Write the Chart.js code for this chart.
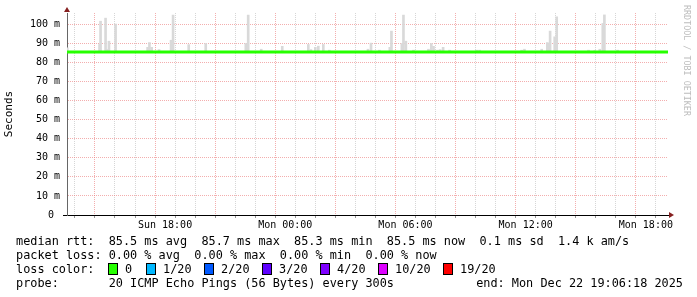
<!DOCTYPE html>
<html>
<head>
<meta charset="utf-8">
<script src="https://cdn.jsdelivr.net/npm/chart.js@4.4.1/dist/chart.umd.min.js"></script>
<style>
  html, body { margin: 0; padding: 0; background: #fff; }
  #wrap { position: relative; width: 697px; height: 297px; overflow: hidden; }
  #c { position: absolute; left: 0; top: 0; }
  .row {
    position: absolute; left: 16px; height: 14px; line-height: 14px;
    font-family: "DejaVu Sans Mono", monospace; font-size: 11.85px;
    white-space: pre; color: #000;
  }
  .sq { position: absolute; width: 8px; height: 10px; border: 1px solid #000; top: 263px; }
  .lbl { position: absolute; top: 262px; line-height: 14px; font-family: "DejaVu Sans Mono", monospace; font-size: 11.85px; white-space: pre; }
  #credit {
    position: absolute; left: 682px; top: 5px; writing-mode: vertical-rl;
    font-family: "DejaVu Sans Mono", monospace; font-size: 8.4px; color: #bdbdbd;
  }
</style>
</head>
<body>
<div id="wrap">
  <canvas id="c" width="697" height="297"></canvas>
  <div class="row" style="top:234px">median rtt:  85.5 ms avg  85.7 ms max  85.3 ms min  85.5 ms now  0.1 ms sd  1.4 k am/s</div>
  <div class="row" style="top:248px">packet loss: 0.00 % avg  0.00 % max  0.00 % min  0.00 % now</div>
  <div class="row" style="top:262px">loss color:</div>
  <div id="lossRow"></div>
  <div class="row" style="top:276px">probe:       20 ICMP Echo Pings (56 Bytes) every 300s</div>
  <div class="row" style="top:276px; left:auto; right:14px">end: Mon Dec 22 19:06:18 2025</div>
  <div id="credit">RRDTOOL / TOBI OETIKER</div>
</div>
<script>
// time axis in hours since Sun 00:00
const xStart = 13.105;
const xEnd = 43.105;
const xLabelHours = [18, 24, 30, 36, 42];
const xLabelText = ["Sun 18:00", "Mon 00:00", "Mon 06:00", "Mon 12:00", "Mon 18:00"];

// median rtt (ms)
const medianHours = [13.105, 17, 21, 25, 29, 33, 37, 41, 43.105];
const medianValues = [85.5, 85.5, 85.5, 85.5, 85.5, 85.5, 85.5, 85.5, 85.5];

// smoke spikes (ms): time, top of the ping spread
const smokeFloor = 85.2;
const spikeHours = [13.12, 14.73, 14.78, 15.03, 15.13, 15.2, 15.53, 17.13, 17.22, 17.33,
  17.7, 18.3, 18.4, 19.18, 20.03, 22.03, 22.15, 22.8, 23.85, 25.15,
  25.28, 25.5, 25.65, 25.9, 26.2, 28.13, 28.28, 28.7, 29.22, 29.3,
  29.82, 29.9, 30.02, 30.4, 31.15, 31.29, 31.4, 31.6, 31.73, 31.88,
  32.2, 33.55, 33.7, 35.8, 35.94, 36.8, 37.08, 37.18, 37.22, 37.45,
  37.55, 39.14, 39.45, 39.7, 39.85, 39.93, 40.59];
const spikeTops = [87.7, 89.5, 101.7, 103.3, 86.8, 91.2, 100.2, 88, 90.5, 88,
  86.8, 91.7, 104.9, 89.4, 90, 90, 104.9, 87, 88.5, 89.5,
  86.8, 88, 88.6, 89.5, 86.5, 87, 90.2, 86.5, 88, 96.5,
  90, 104.9, 91.2, 86.5, 87, 90, 88.5, 86.5, 86.8, 88,
  86.5, 86.5, 86.5, 86.5, 87, 87, 90.5, 90, 96.5, 93.5,
  104, 86.5, 86.3, 87, 100.5, 105, 86.5];

// loss colour legend
const lossLabels = ["0", "1/20", "2/20", "3/20", "4/20", "10/20", "19/20"];
const lossColors = ["#26ff00", "#00b8ff", "#0059ff", "#5e00ff", "#7e00ff", "#dd00ff", "#ff0000"];
const lossBoxX = [108, 146, 204, 262, 320, 378, 443];

const lossRow = document.getElementById("lossRow");
lossLabels.forEach((t, i) => {
  const sq = document.createElement("div");
  sq.className = "sq";
  sq.style.left = lossBoxX[i] + "px";
  sq.style.background = lossColors[i];
  lossRow.appendChild(sq);
  const lb = document.createElement("div");
  lb.className = "lbl";
  lb.style.left = (lossBoxX[i] + 17) + "px";
  lb.textContent = t;
  lossRow.appendChild(lb);
});

const MONO = "'DejaVu Sans Mono', monospace";
const majorGrid = "rgba(235,120,120,0.6)";
const minorGrid = "rgba(180,180,180,0.55)";

const arrows = {
  id: "arrows",
  afterDraw(chart) {
    const { ctx, chartArea: a } = chart;
    ctx.save();
    ctx.fillStyle = "#862020";
    ctx.beginPath();
    ctx.moveTo(a.left, a.top - 6);
    ctx.lineTo(a.left - 3, a.top - 1);
    ctx.lineTo(a.left + 3, a.top - 1);
    ctx.fill();
    ctx.beginPath();
    ctx.moveTo(a.right + 6, a.bottom);
    ctx.lineTo(a.right + 1, a.bottom - 3);
    ctx.lineTo(a.right + 1, a.bottom + 3);
    ctx.fill();
    ctx.restore();
  }
};

new Chart(document.getElementById("c"), {
  type: "bar",
  data: {
    datasets: [
      {
        type: "line",
        data: medianHours.map((h, i) => ({ x: h, y: medianValues[i] })),
        borderColor: "#26ff00",
        borderWidth: 3,
        pointRadius: 0,
        stepped: true,
        order: 0
      },
      {
        type: "bar",
        data: spikeHours.map((h, i) => ({ x: h, y: [smokeFloor, spikeTops[i]] })),
        backgroundColor: "#d9d9d9",
        borderWidth: 0,
        barThickness: 2,
        grouped: false,
        order: 1
      }
    ]
  },
  options: {
    responsive: false,
    animation: false,
    layout: { padding: { left: 0, right: 29, top: 13, bottom: 0 } },
    plugins: { legend: { display: false }, tooltip: { enabled: false } },
    scales: {
      x: {
        type: "linear",
        min: xStart,
        max: xEnd,
        offset: false,
        afterFit(s) { s.height = 82; },
        afterBuildTicks(s) {
          const t = [];
          for (let h = 14; h <= 43; h++) t.push({ value: h });
          s.ticks = t;
        },
        ticks: {
          autoSkip: false,
          maxRotation: 0,
          padding: 1,
          color: "#000",
          font: { family: MONO, size: 10 },
          callback(v) {
            const i = xLabelHours.indexOf(v);
            return i >= 0 ? xLabelText[i] : "";
          }
        },
        grid: {
          color: c => (c.tick && c.tick.value % 3 === 0) ? majorGrid : minorGrid,
          tickColor: "#999",
          tickLength: 3
        },
        border: { color: "#000", width: 1, dash: [1, 1] }
      },
      y: {
        min: 0,
        max: 106,
        afterFit(s) { s.width = 67; },
        afterBuildTicks(s) {
          const t = [];
          for (let v = 0; v <= 105; v += 5) t.push({ value: v });
          s.ticks = t;
        },
        ticks: {
          padding: 3,
          color: "#000",
          font: { family: MONO, size: 10 },
          callback(v) {
            if (v % 10 !== 0) return "";
            return v === 0 ? "0 " : v + " m";
          }
        },
        grid: {
          color: c => (c.tick && c.tick.value % 10 === 0) ? majorGrid : minorGrid,
          tickColor: c => (c.tick && c.tick.value === 0) ? "#000" : "rgba(0,0,0,0)",
          tickLength: 4
        },
        border: { color: "#666", width: 1, dash: [1, 1] },
        title: {
          display: true,
          text: "Seconds",
          color: "#000",
          font: { family: MONO, size: 11 },
          padding: { top: 3, bottom: 0 }
        }
      }
    }
  },
  plugins: [arrows]
});
</script>
</body>
</html>
